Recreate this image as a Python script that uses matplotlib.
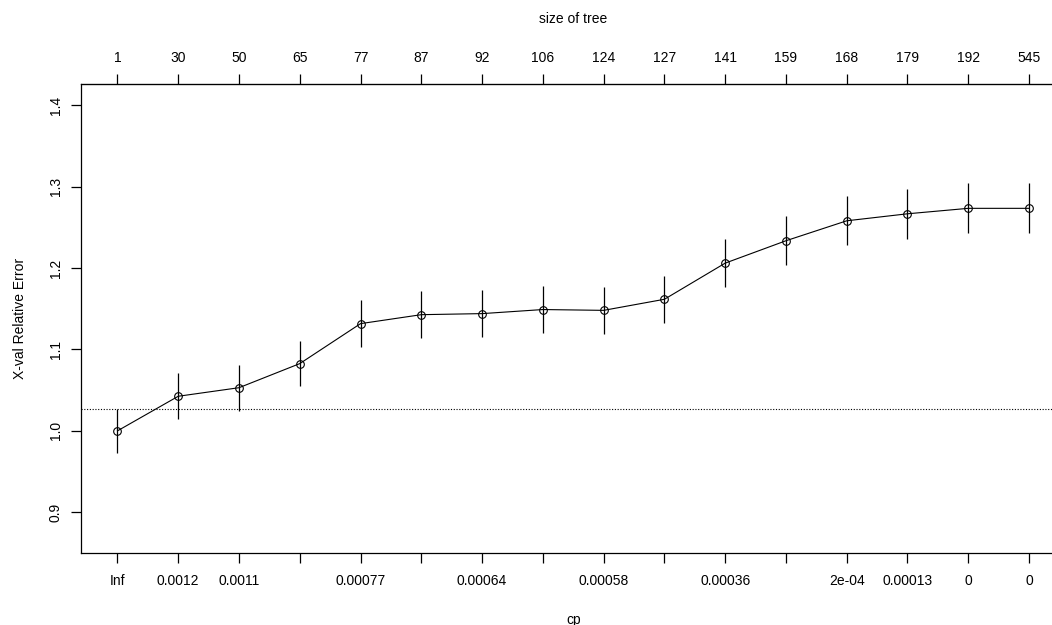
import numpy as np
import matplotlib
matplotlib.use("Agg")
import matplotlib.pyplot as plt

plt.rcParams['font.family'] = ['Liberation Sans', 'DejaVu Sans']

tree_size = [1, 30, 50, 65, 77, 87, 92, 106, 124, 127, 141, 159, 168, 179, 192, 545]
cp_labels = ["Inf", "0.0012", "0.0011", "", "0.00077", "", "0.00064", "",
             "0.00058", "", "0.00036", "", "2e-04", "0.00013", "0", "0"]
xerror = [1.000, 1.0425, 1.053, 1.0826, 1.1317, 1.1427, 1.144, 1.149,
          1.148, 1.1616, 1.206, 1.2335, 1.258, 1.2666, 1.2733, 1.2733]
xstd = [0.027, 0.028, 0.028, 0.028, 0.029, 0.029, 0.029, 0.029,
        0.029, 0.029, 0.0297, 0.030, 0.030, 0.0305, 0.0307, 0.0307]
min_line = 1.027

x = np.arange(1, len(tree_size) + 1)
xerror = np.array(xerror)
xstd = np.array(xstd)

fig = plt.figure(figsize=(10.52, 6.25), dpi=100)
ax = fig.add_axes([81 / 1052, 72 / 625, (1065.5 - 81) / 1052, (553 - 84) / 625])

ax.vlines(x, xerror - xstd, xerror + xstd, color="black", lw=0.9)
ax.plot(x, xerror, color="black", lw=0.8, marker="o", markersize=5.5,
        markerfacecolor="none", markeredgewidth=0.8)
ax.axhline(min_line, color="black", lw=0.8, linestyle=(0, (1, 1.5)))

ax.set_xlim(0.4, 16.6)
ax.set_ylim(0.85, 1.426)

ax.set_xticks(x)
ax.set_xticklabels(cp_labels, fontsize=10)
ax.set_yticks([0.9, 1.0, 1.1, 1.2, 1.3, 1.4])
ax.set_yticklabels(["0.9", "1.0", "1.1", "1.2", "1.3", "1.4"], fontsize=10,
                   rotation=90, va="center")
ax.tick_params(axis="both", direction="out", length=7, width=0.9, pad=8)
ax.tick_params(axis="y", pad=6)

top = ax.secondary_xaxis("top")
top.set_xticks(x)
top.set_xticklabels([str(s) for s in tree_size], fontsize=10)
top.tick_params(direction="out", length=7, width=0.9, pad=7)
top.set_xlabel("size of tree", fontsize=10, labelpad=20)

ax.set_xlabel("cp", fontsize=10, labelpad=18)
ax.set_ylabel("X-val Relative Error", fontsize=10, labelpad=16)

for sp in ax.spines.values():
    sp.set_linewidth(0.9)

fig.savefig("out.png", dpi=100)
